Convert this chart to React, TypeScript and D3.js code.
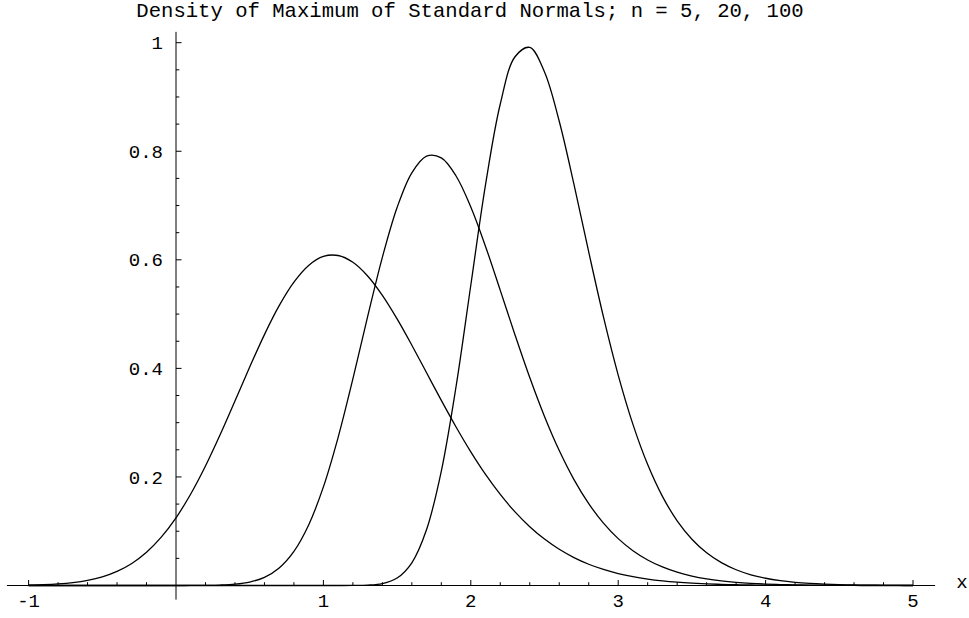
import React from "react";
import * as d3 from "d3";

const title = "Density of Maximum of Standard Normals; n = 5, 20, 100";

const xs: number[] = [
  -1.0, -0.9, -0.8, -0.7, -0.6, -0.5, -0.4, -0.3, -0.2, -0.1,
  0.0, 0.1, 0.2, 0.3, 0.4, 0.5, 0.6, 0.7, 0.8, 0.9,
  1.0, 1.1, 1.2, 1.3, 1.4, 1.5, 1.6, 1.7, 1.8, 1.9,
  2.0, 2.1, 2.2, 2.3, 2.4, 2.5, 2.6, 2.7, 2.8, 2.9,
  3.0, 3.1, 3.2, 3.3, 3.4, 3.5, 3.6, 3.7, 3.8, 3.9,
  4.0, 4.1, 4.2, 4.3, 4.4, 4.5, 4.6, 4.7, 4.8, 4.9,
  5.0,
];

const n5: number[] = [
  0.00077, 0.00153, 0.00292, 0.00535, 0.00943, 0.01595, 0.02596, 0.04065, 0.06127, 0.089,
  0.12467, 0.16855, 0.22013, 0.278, 0.3398, 0.40241, 0.46223, 0.51551, 0.5589, 0.58969,
  0.60622, 0.60794, 0.59542, 0.57021, 0.53455, 0.49112, 0.44267, 0.39186, 0.34099, 0.29199,
  0.24622, 0.20462, 0.16772, 0.13566, 0.10835, 0.08548, 0.06666, 0.05139, 0.03917, 0.02954,
  0.02204, 0.01627, 0.01189, 0.0086, 0.00615, 0.00436, 0.00306, 0.00212, 0.00146, 0.001,
  0.00067, 0.00045, 0.00029, 0.00019, 0.00012, 0.00008, 0.00005, 0.00003, 0.00002, 0.00001,
  0.00001,
];

const n20: number[] = [
  0, 0, 0, 0, 0, 0, 0, 0, 0, 0,
  0.00002, 0.00007, 0.00025, 0.00081, 0.00241, 0.00636, 0.0151, 0.03234, 0.06288, 0.11159,
  0.18173, 0.273, 0.38065, 0.49528, 0.60459, 0.6964, 0.76034, 0.79108, 0.78787, 0.75442,
  0.69728, 0.62461, 0.54378, 0.4616, 0.38305, 0.31143, 0.24858, 0.19511, 0.15079, 0.11491,
  0.08639, 0.06415, 0.04706, 0.03415, 0.02448, 0.01738, 0.0122, 0.00848, 0.00583, 0.00398,
  0.00268, 0.00179, 0.00118, 0.00077, 0.0005, 0.00032, 0.0002, 0.00013, 0.00008, 0.00005,
  0.00003,
];

const n100: number[] = [
  0, 0, 0, 0, 0, 0, 0, 0, 0, 0,
  0, 0, 0, 0, 0, 0, 0, 0, 0, 0,
  0, 0.00001, 0.00011, 0.00072, 0.00359, 0.01379, 0.04187, 0.1031, 0.21091, 0.36664,
  0.55319, 0.73835, 0.88703, 0.97415, 0.99137, 0.94607, 0.8553, 0.7389, 0.61444, 0.49477,
  0.38771, 0.29682, 0.22273, 0.16421, 0.11918, 0.08528, 0.06023, 0.04203, 0.02899, 0.01977,
  0.01334, 0.00891, 0.00589, 0.00385, 0.00249, 0.0016, 0.00101, 0.00064, 0.0004, 0.00024,
  0.00015,
];

const xMajorTicks = [-1, 1, 2, 3, 4, 5];
const xTickLabels = ["-1", "1", "2", "3", "4", "5"];
const yMajorTicks = [0.2, 0.4, 0.6, 0.8, 1.0];
const yTickLabels = ["0.2", "0.4", "0.6", "0.8", "1"];

const W = 969;
const H = 618;
const FONT = "'Liberation Mono', 'DejaVu Sans Mono', monospace";

export default function App() {
  const x = d3.scaleLinear().domain([0, 5]).range([176, 913]);
  const y = d3.scaleLinear().domain([0, 1]).range([585.5, 42.7]);

  const line = d3
    .line<[number, number]>()
    .x((d) => x(d[0]))
    .y((d) => y(d[1]))
    .curve(d3.curveCatmullRom.alpha(0.5));

  const series = [n5, n20, n100].map((vals) =>
    xs.map((xv, i) => [xv, vals[i]] as [number, number])
  );

  const xMinor = d3.range(-5, 26).map((i) => i * 0.2).filter((v) => Math.abs(v) > 1e-9 && Math.abs(v - Math.round(v)) > 1e-6);
  const yMinor = d3.range(1, 21).map((i) => i * 0.05).filter((v) => Math.abs(v * 5 - Math.round(v * 5)) > 1e-6);

  const x0 = x(0);
  const y0 = y(0);

  return (
    <svg
      width={W}
      height={H}
      style={{ position: "absolute", left: 0, top: 0, background: "#fff" }}
    >
      <rect x={0} y={0} width={W} height={H} fill="#fff" />
      <text
        x={470}
        y={17}
        textAnchor="middle"
        fontFamily={FONT}
        fontSize={20.6}
        fill="#000"
      >
        {title}
      </text>

      {/* axes */}
      <line x1={x(-1.147)} x2={x(5.15)} y1={y0} y2={y0} stroke="#000" strokeWidth={1} />
      <line x1={x0} x2={x0} y1={y(1.02)} y2={y(-0.026)} stroke="#000" strokeWidth={1} />

      {/* x ticks */}
      {xMajorTicks.map((t, i) => (
        <g key={"xm" + t}>
          <line x1={x(t)} x2={x(t)} y1={y0} y2={y0 - 5.5} stroke="#000" strokeWidth={1} />
          <text
            x={x(t)}
            y={607}
            textAnchor="middle"
            fontFamily={FONT}
            fontSize={19}
            fill="#000"
          >
            {xTickLabels[i]}
          </text>
        </g>
      ))}
      {xMinor.map((t) => (
        <line key={"xn" + t} x1={x(t)} x2={x(t)} y1={y0} y2={y0 - 3.3} stroke="#000" strokeWidth={1} />
      ))}
      <text x={962} y={588} textAnchor="middle" fontFamily={FONT} fontSize={19} fill="#000">
        x
      </text>

      {/* y ticks */}
      {yMajorTicks.map((t, i) => (
        <g key={"ym" + t}>
          <line x1={x0} x2={x0 + 5.5} y1={y(t)} y2={y(t)} stroke="#000" strokeWidth={1} />
          <text
            x={163}
            y={y(t)}
            dy="0.35em"
            textAnchor="end"
            fontFamily={FONT}
            fontSize={19}
            fill="#000"
          >
            {yTickLabels[i]}
          </text>
        </g>
      ))}
      {yMinor.map((t) => (
        <line key={"yn" + t} x1={x0} x2={x0 + 3.3} y1={y(t)} y2={y(t)} stroke="#000" strokeWidth={1} />
      ))}

      {/* curves */}
      {series.map((s, i) => (
        <path key={"s" + i} d={line(s) || ""} fill="none" stroke="#000" strokeWidth={1.3} />
      ))}
    </svg>
  );
}
